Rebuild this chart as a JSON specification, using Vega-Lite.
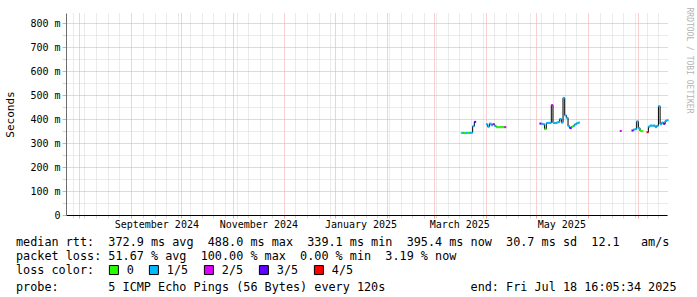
{
  "$schema": "https://vega.github.io/schema/vega-lite/v6.json",
  "width": 601,
  "height": 202,
  "autosize": {"type": "none"},
  "padding": {"left": 66, "top": 13, "right": 30, "bottom": 82},
  "background": "white",
  "config": {"view": {"stroke": null}, "font": "DejaVu Sans Mono"},
  "title": {
    "text": ["median\u00a0rtt:\u00a0\u00a0372.9\u00a0ms\u00a0avg\u00a0\u00a0488.0\u00a0ms\u00a0max\u00a0\u00a0339.1\u00a0ms\u00a0min\u00a0\u00a0395.4\u00a0ms\u00a0now\u00a0\u00a030.7\u00a0ms\u00a0sd\u00a0\u00a012.1\u00a0\u00a0\u00a0am/s", "packet\u00a0loss:\u00a051.67\u00a0%\u00a0avg\u00a0\u00a0100.00\u00a0%\u00a0max\u00a0\u00a00.00\u00a0%\u00a0min\u00a0\u00a03.19\u00a0%\u00a0now"],
    "subtitle": "probe:\u00a0\u00a0\u00a0\u00a0\u00a0\u00a0\u00a05\u00a0ICMP\u00a0Echo\u00a0Pings\u00a0(56\u00a0Bytes)\u00a0every\u00a0120s\u00a0\u00a0\u00a0\u00a0\u00a0\u00a0\u00a0\u00a0\u00a0\u00a0\u00a0\u00a0end:\u00a0Fri\u00a0Jul\u00a018\u00a016:05:34\u00a02025",
    "orient": "bottom",
    "anchor": "start",
    "frame": "group",
    "offset": -40,
    "dx": -50,
    "font": "DejaVu Sans Mono",
    "fontSize": 11.8,
    "fontWeight": "normal",
    "color": "black",
    "lineHeight": 14,
    "baseline": "top",
    "subtitleFont": "DejaVu Sans Mono",
    "subtitleFontSize": 11.8,
    "subtitleFontWeight": "normal",
    "subtitleColor": "black",
    "subtitlePadding": 19,
    "subtitleLineHeight": 14
  },
  "data": {"values": [
    {"t": "2025-03-17T12:00", "rtt": 342, "loss": "0", "seg": 1},
    {"t": "2025-03-18T12:00", "rtt": 342, "loss": "1/5", "seg": 1},
    {"t": "2025-03-19T12:00", "rtt": 341, "loss": "0", "seg": 1},
    {"t": "2025-03-20T12:00", "rtt": 342, "loss": "1/5", "seg": 1},
    {"t": "2025-03-21T12:00", "rtt": 342, "loss": "0", "seg": 1},
    {"t": "2025-03-22T12:00", "rtt": 342, "loss": "1/5", "seg": 1},
    {"t": "2025-03-23T12:00", "rtt": 343, "loss": "1/5", "seg": 1},
    {"t": "2025-03-24T12:00", "rtt": 370, "loss": "1/5", "seg": 1},
    {"t": "2025-03-25T12:00", "rtt": 388, "loss": "3/5", "seg": 1},
    {"t": "2025-04-01T12:00", "rtt": 378, "loss": "1/5", "seg": 2},
    {"t": "2025-04-02T12:00", "rtt": 368, "loss": "1/5", "seg": 2},
    {"t": "2025-04-03T12:00", "rtt": 381, "loss": "1/5", "seg": 2},
    {"t": "2025-04-04T12:00", "rtt": 374, "loss": "1/5", "seg": 2},
    {"t": "2025-04-05T12:00", "rtt": 379, "loss": "2/5", "seg": 2},
    {"t": "2025-04-06T12:00", "rtt": 372, "loss": "1/5", "seg": 2},
    {"t": "2025-04-07T12:00", "rtt": 366, "loss": "0", "seg": 2},
    {"t": "2025-04-08T12:00", "rtt": 366, "loss": "0", "seg": 2},
    {"t": "2025-04-09T12:00", "rtt": 366, "loss": "0", "seg": 2},
    {"t": "2025-04-10T12:00", "rtt": 366, "loss": "0", "seg": 2},
    {"t": "2025-04-11T12:00", "rtt": 366, "loss": "0", "seg": 2},
    {"t": "2025-04-12T12:00", "rtt": 366, "loss": "2/5", "seg": 2},
    {"t": "2025-05-03T12:00", "rtt": 381, "loss": "3/5", "seg": 3},
    {"t": "2025-05-04T12:00", "rtt": 380, "loss": "1/5", "seg": 3},
    {"t": "2025-05-05T12:00", "rtt": 378, "loss": "1/5", "seg": 3},
    {"t": "2025-05-06T12:00", "rtt": 358, "loss": "0", "seg": 3},
    {"t": "2025-05-07T12:00", "rtt": 383, "loss": "1/5", "seg": 3},
    {"t": "2025-05-08T12:00", "rtt": 384, "loss": "1/5", "seg": 3},
    {"t": "2025-05-09T12:00", "rtt": 384, "loss": "1/5", "seg": 3},
    {"t": "2025-05-10T12:00", "rtt": 458, "loss": "2/5", "seg": 3},
    {"t": "2025-05-11T12:00", "rtt": 384, "loss": "1/5", "seg": 3},
    {"t": "2025-05-12T12:00", "rtt": 383, "loss": "1/5", "seg": 3},
    {"t": "2025-05-13T12:00", "rtt": 385, "loss": "1/5", "seg": 3},
    {"t": "2025-05-14T12:00", "rtt": 388, "loss": "1/5", "seg": 3},
    {"t": "2025-05-15T12:00", "rtt": 400, "loss": "1/5", "seg": 3},
    {"t": "2025-05-16T12:00", "rtt": 385, "loss": "1/5", "seg": 3},
    {"t": "2025-05-17T12:00", "rtt": 488, "loss": "1/5", "seg": 3},
    {"t": "2025-05-18T12:00", "rtt": 415, "loss": "1/5", "seg": 3},
    {"t": "2025-05-19T12:00", "rtt": 405, "loss": "1/5", "seg": 3},
    {"t": "2025-05-20T12:00", "rtt": 370, "loss": "1/5", "seg": 3},
    {"t": "2025-05-21T12:00", "rtt": 362, "loss": "3/5", "seg": 3},
    {"t": "2025-05-22T12:00", "rtt": 368, "loss": "0", "seg": 3},
    {"t": "2025-05-23T12:00", "rtt": 372, "loss": "1/5", "seg": 3},
    {"t": "2025-05-24T12:00", "rtt": 378, "loss": "1/5", "seg": 3},
    {"t": "2025-05-25T12:00", "rtt": 382, "loss": "1/5", "seg": 3},
    {"t": "2025-05-26T12:00", "rtt": 385, "loss": "1/5", "seg": 3},
    {"t": "2025-06-20T12:00", "rtt": 350, "loss": "2/5", "seg": 4},
    {"t": "2025-06-27T12:00", "rtt": 352, "loss": "3/5", "seg": 5},
    {"t": "2025-06-28T12:00", "rtt": 356, "loss": "1/5", "seg": 5},
    {"t": "2025-06-29T12:00", "rtt": 358, "loss": "1/5", "seg": 5},
    {"t": "2025-06-30T12:00", "rtt": 390, "loss": "1/5", "seg": 5},
    {"t": "2025-07-01T12:00", "rtt": 362, "loss": "1/5", "seg": 5},
    {"t": "2025-07-02T12:00", "rtt": 350, "loss": "0", "seg": 5},
    {"t": "2025-07-03T12:00", "rtt": 349, "loss": "0", "seg": 5},
    {"t": "2025-07-06T12:00", "rtt": 345, "loss": "4/5", "seg": 6},
    {"t": "2025-07-07T12:00", "rtt": 368, "loss": "1/5", "seg": 6},
    {"t": "2025-07-08T12:00", "rtt": 373, "loss": "1/5", "seg": 6},
    {"t": "2025-07-09T12:00", "rtt": 372, "loss": "1/5", "seg": 6},
    {"t": "2025-07-10T12:00", "rtt": 373, "loss": "1/5", "seg": 6},
    {"t": "2025-07-11T12:00", "rtt": 366, "loss": "1/5", "seg": 6},
    {"t": "2025-07-12T12:00", "rtt": 372, "loss": "1/5", "seg": 6},
    {"t": "2025-07-13T12:00", "rtt": 453, "loss": "1/5", "seg": 6},
    {"t": "2025-07-14T12:00", "rtt": 378, "loss": "1/5", "seg": 6},
    {"t": "2025-07-15T12:00", "rtt": 385, "loss": "1/5", "seg": 6},
    {"t": "2025-07-16T12:00", "rtt": 380, "loss": "3/5", "seg": 6},
    {"t": "2025-07-17T12:00", "rtt": 392, "loss": "1/5", "seg": 6},
    {"t": "2025-07-18T12:00", "rtt": 395, "loss": "1/5", "seg": 6}
  ]},
  "layer": [
    {
      "mark": {"type": "line", "interpolate": "step", "color": "black", "strokeWidth": 1},
      "encoding": {
        "detail": {"field": "seg", "type": "nominal"},
        "x": {
          "field": "t", "type": "temporal",
          "scale": {"domain": [{"year": 2024, "month": 7, "date": 24, "hours": 1}, {"year": 2025, "month": 7, "date": 18, "hours": 3}]},
          "axis": {
            "orient": "bottom", "title": null, "labels": false, "domain": false,
            "grid": true, "gridDash": [1, 1], "gridWidth": 1,
            "gridColor": {"condition": {"test": "date(datum.value) == 1", "value": "#f2a0a0"}, "value": "#d6d6d6"},
            "ticks": true, "tickSize": 3,
            "tickColor": {"condition": {"test": "date(datum.value) == 1", "value": "#f2a0a0"}, "value": "#d6d6d6"},
            "values": [
              {"year": 2024, "month": 7, "date": 28}, {"year": 2024, "month": 8, "date": 1}, {"year": 2024, "month": 8, "date": 4},
              {"year": 2024, "month": 8, "date": 11}, {"year": 2024, "month": 8, "date": 18}, {"year": 2024, "month": 8, "date": 25},
              {"year": 2024, "month": 9, "date": 1}, {"year": 2024, "month": 9, "date": 8}, {"year": 2024, "month": 9, "date": 15},
              {"year": 2024, "month": 9, "date": 22}, {"year": 2024, "month": 9, "date": 29}, {"year": 2024, "month": 10, "date": 1},
              {"year": 2024, "month": 10, "date": 6}, {"year": 2024, "month": 10, "date": 13}, {"year": 2024, "month": 10, "date": 20},
              {"year": 2024, "month": 10, "date": 27}, {"year": 2024, "month": 11, "date": 1}, {"year": 2024, "month": 11, "date": 3},
              {"year": 2024, "month": 11, "date": 10}, {"year": 2024, "month": 11, "date": 17}, {"year": 2024, "month": 11, "date": 24},
              {"year": 2024, "month": 12, "date": 1}, {"year": 2024, "month": 12, "date": 8}, {"year": 2024, "month": 12, "date": 15},
              {"year": 2024, "month": 12, "date": 22}, {"year": 2024, "month": 12, "date": 29}, {"year": 2025, "month": 1, "date": 1},
              {"year": 2025, "month": 1, "date": 5}, {"year": 2025, "month": 1, "date": 12}, {"year": 2025, "month": 1, "date": 19},
              {"year": 2025, "month": 1, "date": 26}, {"year": 2025, "month": 2, "date": 1}, {"year": 2025, "month": 2, "date": 2},
              {"year": 2025, "month": 2, "date": 9}, {"year": 2025, "month": 2, "date": 16}, {"year": 2025, "month": 2, "date": 23},
              {"year": 2025, "month": 3, "date": 1}, {"year": 2025, "month": 3, "date": 2}, {"year": 2025, "month": 3, "date": 9},
              {"year": 2025, "month": 3, "date": 16}, {"year": 2025, "month": 3, "date": 23}, {"year": 2025, "month": 3, "date": 30},
              {"year": 2025, "month": 4, "date": 1}, {"year": 2025, "month": 4, "date": 6}, {"year": 2025, "month": 4, "date": 13},
              {"year": 2025, "month": 4, "date": 20}, {"year": 2025, "month": 4, "date": 27}, {"year": 2025, "month": 5, "date": 1},
              {"year": 2025, "month": 5, "date": 4}, {"year": 2025, "month": 5, "date": 11}, {"year": 2025, "month": 5, "date": 18},
              {"year": 2025, "month": 5, "date": 25}, {"year": 2025, "month": 6, "date": 1}, {"year": 2025, "month": 6, "date": 8},
              {"year": 2025, "month": 6, "date": 15}, {"year": 2025, "month": 6, "date": 22}, {"year": 2025, "month": 6, "date": 29},
              {"year": 2025, "month": 7, "date": 1}, {"year": 2025, "month": 7, "date": 6}, {"year": 2025, "month": 7, "date": 13}
            ]
          }
        },
        "y": {
          "field": "rtt", "type": "quantitative",
          "scale": {"domain": [0, 841.67], "nice": false, "zero": true},
          "axis": {
            "orient": "left",
            "values": [0, 50, 100, 150, 200, 250, 300, 350, 400, 450, 500, 550, 600, 650, 700, 750, 800],
            "grid": true, "gridDash": [1, 1], "gridWidth": 1,
            "gridColor": {"condition": {"test": "datum.value % 100 == 0", "value": "#f2a0a0"}, "value": "#d6d6d6"},
            "ticks": true, "tickSize": 4,
            "tickColor": {"condition": {"test": "datum.value % 100 == 0", "value": "#f2a0a0"}, "value": "#d6d6d6"},
            "labelExpr": "datum.value % 100 == 0 ? (datum.value == 0 ? '0\u00a0\u00a0' : datum.value + '\u00a0m') : ''",
            "labelFont": "DejaVu Sans Mono", "labelFontSize": 10, "labelColor": "black", "labelPadding": 2,
            "labelOverlap": false, "labelFlush": false,
            "domain": true, "domainColor": "#6e6e6e", "domainWidth": 1,
            "title": "Seconds", "titleFont": "DejaVu Sans Mono", "titleFontSize": 11, "titleFontWeight": "normal",
            "titleColor": "black", "titleAngle": -90, "titleX": -56, "titleY": 101, "titleAlign": "center", "titleBaseline": "middle"
          }
        }
      }
    },
    {
      "mark": {"type": "tick", "orient": "horizontal", "size": 2, "thickness": 2, "opacity": 1},
      "encoding": {
        "x": {
          "field": "t", "type": "temporal",
          "axis": {
            "orient": "bottom", "title": null, "grid": false, "ticks": false,
            "domain": true, "domainColor": "black", "domainWidth": 1,
            "values": [{"year": 2024, "month": 9, "date": 16}, {"year": 2024, "month": 11, "date": 16}, {"year": 2025, "month": 1, "date": 16}, {"year": 2025, "month": 3, "date": 16}, {"year": 2025, "month": 5, "date": 16}],
            "format": "%B %Y",
            "labelFont": "DejaVu Sans Mono", "labelFontSize": 10, "labelColor": "black", "labelPadding": 4,
            "labelOverlap": false, "labelFlush": false
          }
        },
        "y": {
          "field": "rtt", "type": "quantitative",
          "axis": {
            "orient": "right", "grid": false, "ticks": false, "labels": false, "domain": false,
            "title": "RRDTOOL / TOBI OETIKER", "titleFont": "DejaVu Sans Mono", "titleFontSize": 8,
            "titleFontWeight": "normal", "titleColor": "#b4b4b4", "titleAngle": 90,
            "titleX": 21, "titleY": 47, "titleAlign": "center", "titleBaseline": "middle"
          }
        },
        "color": {
          "field": "loss", "type": "nominal",
          "scale": {"domain": ["0", "1/5", "2/5", "3/5", "4/5"], "range": ["#26ff00", "#00b8ff", "#dd00ff", "#5e00ff", "#ff0000"]},
          "legend": {
            "orient": "none", "legendX": -50, "legendY": 251, "direction": "horizontal",
            "title": "loss color:", "titleOrient": "left", "titleFont": "DejaVu Sans Mono", "titleFontSize": 11.8,
            "titleFontWeight": "normal", "titleColor": "black", "titlePadding": 13,
            "labelFont": "DejaVu Sans Mono", "labelFontSize": 11.8, "labelColor": "black", "labelOffset": 7,
            "columnPadding": 13, "symbolType": "square", "symbolSize": 81, "symbolStrokeColor": "black",
            "symbolStrokeWidth": 1, "symbolOpacity": 1, "padding": 0
          }
        }
      }
    }
  ],
  "resolve": {"axis": {"x": "independent", "y": "independent"}}
}
